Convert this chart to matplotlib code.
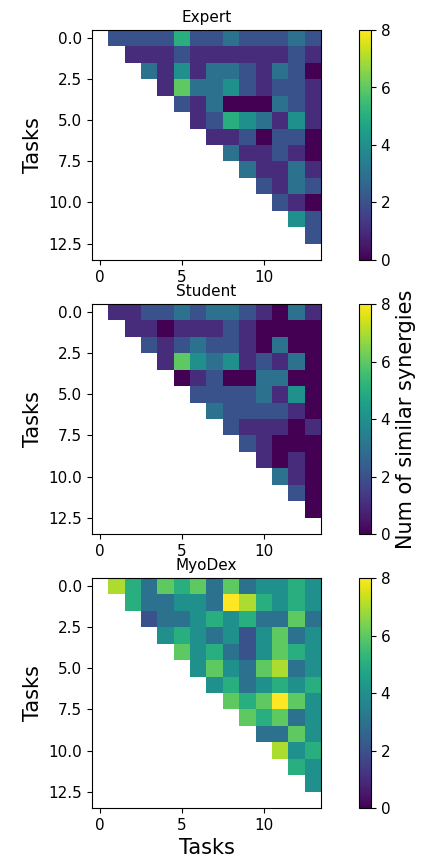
import numpy as np
import matplotlib
matplotlib.use("Agg")
import matplotlib.pyplot as plt
from matplotlib.ticker import MultipleLocator

n_tasks = 14
titles = ["Expert", "Student", "MyoDex"]

# upper triangle rows (row i holds columns i+1 .. 13)
expert = [
    [2, 2, 2, 2, 5, 2, 2, 3, 2, 2, 2, 3, 2],
    [1, 1, 1, 2, 1, 1, 1, 1, 1, 1, 2, 1],
    [3, 1, 4, 1, 3, 3, 2, 1, 3, 2, 0],
    [1, 6, 3, 3, 4, 2, 1, 2, 2, 1],
    [2, 1, 3, 0, 0, 0, 3, 2, 1],
    [1, 2, 5, 4, 3, 1, 4, 1],
    [1, 1, 2, 0, 2, 2, 0],
    [3, 1, 1, 2, 1, 0],
    [3, 1, 1, 3, 1],
    [2, 1, 3, 2],
    [2, 1, 0],
    [4, 2],
    [2],
]
student = [
    [1, 1, 2, 2, 3, 2, 3, 3, 2, 1, 0, 3, 1],
    [1, 1, 0, 1, 1, 1, 2, 1, 0, 0, 0, 0],
    [2, 1, 2, 3, 2, 2, 1, 0, 3, 0, 0],
    [1, 6, 4, 3, 4, 1, 2, 1, 3, 0],
    [0, 1, 2, 0, 0, 3, 3, 0, 0],
    [2, 2, 2, 2, 3, 1, 4, 0],
    [3, 2, 2, 2, 2, 1, 0],
    [2, 1, 1, 1, 0, 1],
    [2, 1, 0, 0, 0],
    [1, 0, 1, 0],
    [3, 1, 0],
    [2, 0],
    [0],
]
myodex = [
    [7, 5, 3, 6, 5, 6, 3, 6, 3, 4, 4, 5, 4],
    [5, 3, 3, 4, 4, 3, 8, 7, 5, 4, 5, 4],
    [2, 3, 3, 4, 5, 4, 5, 3, 3, 6, 3],
    [4, 5, 4, 3, 4, 2, 4, 6, 3, 4],
    [6, 4, 5, 3, 2, 4, 6, 5, 4],
    [4, 6, 4, 3, 6, 7, 3, 4],
    [4, 5, 3, 4, 5, 4, 5],
    [6, 5, 6, 8, 6, 4],
    [6, 5, 6, 3, 4],
    [3, 3, 6, 4],
    [7, 4, 5],
    [5, 4],
    [4],
]


def to_matrix(rows):
    m = np.full((n_tasks, n_tasks), np.nan)
    for i, r in enumerate(rows):
        m[i, i + 1:] = r
    return m


W, H = 422, 863
fig = plt.figure(figsize=(W / 100, H / 100), dpi=100)

ax_tops = [30, 304, 578]
ax_h = 230
for k, (name, rows) in enumerate(zip(titles, [expert, student, myodex])):
    top = ax_tops[k]
    ax = fig.add_axes([92 / W, 1 - (top + ax_h) / H, 229 / W, ax_h / H])
    im = ax.imshow(to_matrix(rows), cmap="viridis", vmin=0, vmax=8,
                   aspect="auto", interpolation="nearest")
    ax.xaxis.set_major_locator(MultipleLocator(5))
    ax.yaxis.set_major_locator(MultipleLocator(2.5))
    ax.set_title(name, fontsize=11)
    ax.set_ylabel("Tasks", fontsize=15)
    ax.tick_params(labelsize=11)
    cax = fig.add_axes([359 / W, 1 - (top + ax_h) / H, 12 / W, ax_h / H])
    cb = fig.colorbar(im, cax=cax)
    cb.set_ticks([0, 2, 4, 6, 8])
    cb.ax.tick_params(labelsize=11)
    if k == 1:
        cb.set_label("Num of similar synergies", fontsize=15)
    if k == 2:
        ax.set_xlabel("Tasks", fontsize=15)

fig.savefig("out.png", dpi=100)
